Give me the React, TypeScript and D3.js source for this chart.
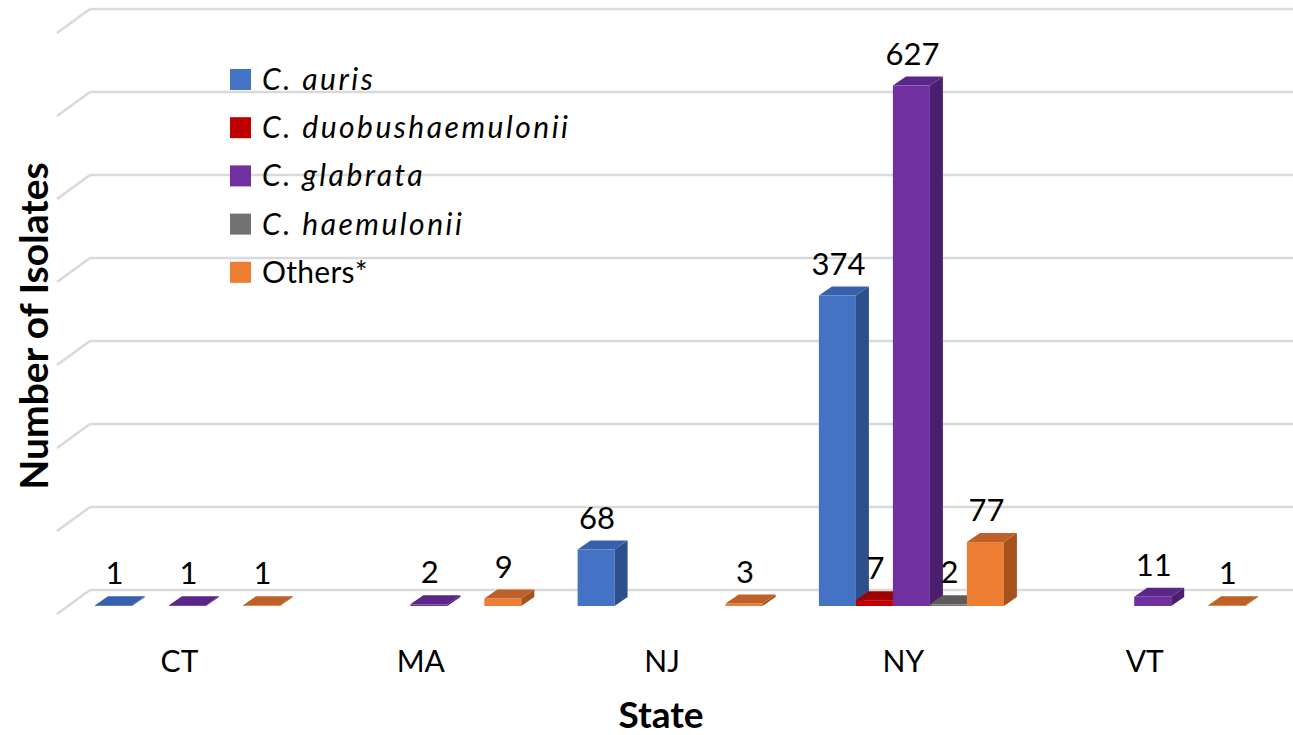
import React from 'react';
import * as d3 from 'd3';

const states = ['CT', 'MA', 'NJ', 'NY', 'VT'];
const seriesNames = ['C. auris', 'C. duobushaemulonii', 'C. glabrata', 'C. haemulonii', 'Others*'];
const seriesItalic = [true, true, true, true, false];
const cAuris = [1, 0, 68, 374, 0];
const cDuobushaemulonii = [0, 0, 0, 7, 0];
const cGlabrata = [1, 2, 0, 627, 11];
const cHaemulonii = [0, 0, 0, 2, 0];
const othersValues = [1, 9, 3, 77, 1];
const seriesValues = [cAuris, cDuobushaemulonii, cGlabrata, cHaemulonii, othersValues];
const frontColors = ['#4472C4', '#C00000', '#7030A0', '#767171', '#ED7D31'];
const sideColors = ['#2D4F8C', '#8A0000', '#4B1F6E', '#524E4E', '#A5521D'];
const topColors = ['#3660AC', '#9E0000', '#5A2688', '#5F5B5B', '#BD6128'];
const yMax = 700;

const W = 1293;
const H = 735;
const FONT = 'Lato, Carlito, Calibri, sans-serif';

export default function App() {
  const y = d3.scaleLinear().domain([0, yMax]).range([606, 25]);
  const xCenter = d3.scalePoint<string>().domain(states).range([187.5, 1152.7]);
  const xInner = d3.scaleBand<string>().domain(seriesNames).range([-92.5, 92.5]);
  const bw = xInner.bandwidth();
  const depth = { dx: 13, dy: -9 };
  const wallShift = { dx: 22, dy: -16 };
  const wallLeft = 90;
  const stub = { dx: -33, dy: 24 };
  const ticks = y.ticks(7);

  const bars: React.ReactNode[] = [];
  const labels: React.ReactNode[] = [];
  states.forEach((st, ci) => {
    seriesNames.forEach((sn, si) => {
      const v = seriesValues[si][ci];
      if (!v) return;
      const x0 = (xCenter(st) as number) + (xInner(sn) as number);
      const x1 = x0 + bw;
      const y0 = y(0);
      const yt = y(v);
      const { dx, dy } = depth;
      bars.push(
        <g key={`b-${st}-${si}`}>
          <rect x={x0} y={yt} width={bw} height={y0 - yt} fill={frontColors[si]} />
          <polygon
            points={`${x1},${y0} ${x1 + dx},${y0 + dy} ${x1 + dx},${yt + dy} ${x1},${yt}`}
            fill={sideColors[si]}
          />
          <polygon
            points={`${x0},${yt} ${x1},${yt} ${x1 + dx},${yt + dy} ${x0 + dx},${yt + dy}`}
            fill={topColors[si]}
          />
        </g>
      );
      labels.push(
        <text
          key={`l-${st}-${si}`}
          x={x0 + bw / 2 + 1}
          y={yt - 21}
          textAnchor="middle"
          fontSize={31}
          fontFamily={FONT}
          fill="#000"
        >
          {v}
        </text>
      );
    });
  });

  return (
    <svg
      width={W}
      height={H}
      style={{ position: 'absolute', left: 0, top: 0, background: '#fff' }}
    >
      <rect x={0} y={0} width={W} height={H} fill="#fff" />
      {ticks.map((t) => {
        const yw = y(t) + wallShift.dy;
        return (
          <g key={`g-${t}`} stroke="#D9D9D9" strokeWidth={2.5} fill="none">
            <line x1={wallLeft} y1={yw} x2={W} y2={yw} />
            <line x1={wallLeft} y1={yw} x2={wallLeft + stub.dx} y2={yw + stub.dy} />
          </g>
        );
      })}
      {bars}
      {labels}
      {states.map((st) => (
        <text
          key={`c-${st}`}
          x={(xCenter(st) as number) - 8}
          y={672}
          textAnchor="middle"
          fontSize={30}
          fontFamily={FONT}
          fill="#000"
        >
          {st}
        </text>
      ))}
      <text
        x={661}
        y={728}
        textAnchor="middle"
        fontSize={37}
        fontWeight="bold"
        fontFamily={FONT}
        fill="#000"
      >
        State
      </text>
      <text
        transform="translate(48,326) rotate(-90)"
        textAnchor="middle"
        fontSize={39}
        fontWeight="bold"
        fontFamily={FONT}
        fill="#000"
      >
        Number of Isolates
      </text>
      {seriesNames.map((sn, i) => {
        const top = 69 + i * 48.2;
        return (
          <g key={`lg-${sn}`}>
            <rect x={230} y={top} width={21} height={21} fill={frontColors[i]} />
            <text
              x={262}
              y={top + 21}
              fontSize={seriesItalic[i] ? 30 : 30}
              letterSpacing={seriesItalic[i] ? 2.5 : 0.3}
              fontStyle={seriesItalic[i] ? 'italic' : 'normal'}
              fontFamily={FONT}
              fill="#000"
            >
              {sn}
            </text>
          </g>
        );
      })}
    </svg>
  );
}
